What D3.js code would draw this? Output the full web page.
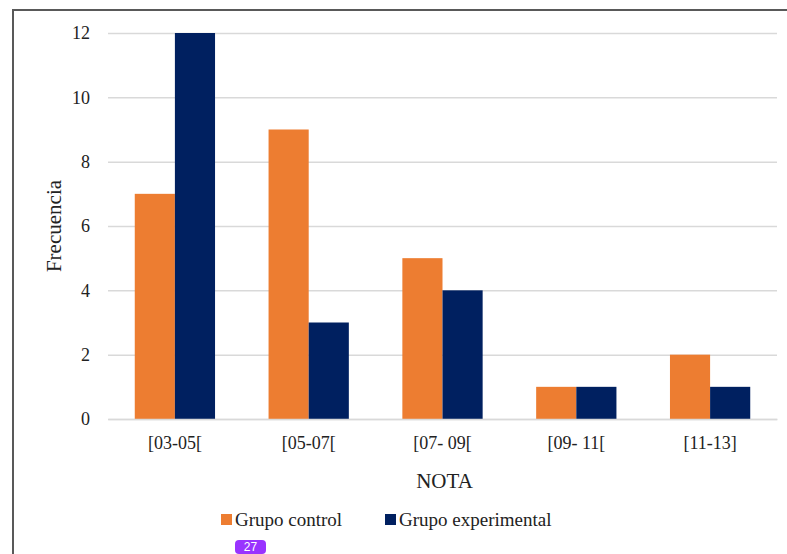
<!DOCTYPE html>
<html>
<head>
<meta charset="utf-8">
<script src="https://cdn.jsdelivr.net/npm/d3@7"></script>
<style>
  html, body { margin: 0; padding: 0; background: #fff; }
  svg { display: block; }
</style>
</head>
<body>
<svg id="chart" width="787" height="554"></svg>
<script>
// Frequency of grades per interval, control vs experimental group
const categories = ["[03-05[", "[05-07[", "[07- 09[", "[09- 11[", "[11-13]"];
const seriesNames = ["Grupo control", "Grupo experimental"];
const controlValues = [7, 9, 5, 1, 2];
const experimentalValues = [12, 3, 4, 1, 1];
const yTicks = [0, 2, 4, 6, 8, 10, 12];
const colors = ["#ED7D31", "#002060"];

const seriesValues = [controlValues, experimentalValues];
const rows = categories.map((c, i) => ({ cat: c, vals: seriesValues.map(s => s[i]) }));

const svg = d3.select("#chart");
const W = 787, H = 554;
const plot = { left: 108, right: 777, top: 33, bottom: 419 };
const serifStack = '"Liberation Serif", "Times New Roman", Times, serif';

// Outer frame
svg.append("path")
  .attr("d", `M13,${H + 5} L13,10 L${W + 5},10`)
  .attr("fill", "none")
  .attr("stroke", "#595959")
  .attr("stroke-width", 2);

const x0 = d3.scaleBand()
  .domain(categories)
  .range([plot.left, plot.right])
  .paddingInner(0.4)
  .paddingOuter(0.2);

const x1 = d3.scaleBand()
  .domain(seriesNames)
  .range([0, x0.bandwidth()]);

const y = d3.scaleLinear()
  .domain([0, 12])
  .range([plot.bottom, plot.top]);

// Horizontal gridlines with value labels
const yAxis = d3.axisLeft(y)
  .tickValues(yTicks)
  .tickSize(-(plot.right - plot.left))
  .tickPadding(18)
  .tickFormat(d3.format("d"));

const gy = svg.append("g")
  .attr("transform", `translate(${plot.left},0)`)
  .call(yAxis)
  .attr("font-family", null)
  .attr("font-size", null);
gy.select(".domain").remove();
gy.selectAll(".tick line")
  .attr("stroke", "#d9d9d9")
  .attr("stroke-width", 1.5);
gy.selectAll(".tick text")
  .style("font-family", serifStack)
  .style("font-size", "18px")
  .attr("fill", "#222");

// Bars
const groups = svg.append("g")
  .selectAll("g")
  .data(rows)
  .join("g")
  .attr("transform", d => `translate(${x0(d.cat)},0)`);

groups.selectAll("rect")
  .data(d => d.vals.map((v, i) => ({ name: seriesNames[i], v, i })))
  .join("rect")
  .attr("x", d => x1(d.name))
  .attr("y", d => y(d.v))
  .attr("width", x1.bandwidth())
  .attr("height", d => y(0) - y(d.v))
  .attr("fill", d => colors[d.i]);

// Category axis
const xAxis = d3.axisBottom(x0).tickSize(0).tickPadding(17);
const gx = svg.append("g")
  .attr("transform", `translate(0,${plot.bottom})`)
  .call(xAxis)
  .attr("font-family", null)
  .attr("font-size", null);
gx.select(".domain")
  .attr("stroke", "#d9d9d9")
  .attr("stroke-width", 1.5);
gx.selectAll(".tick text")
  .style("font-family", serifStack)
  .style("font-size", "18px")
  .attr("fill", "#222");

// Axis titles
svg.append("text")
  .attr("x", (plot.left + plot.right) / 2 + 2)
  .attr("y", 488)
  .attr("text-anchor", "middle")
  .style("font-family", serifStack)
  .style("font-size", "21px")
  .attr("fill", "#222")
  .text("NOTA");

svg.append("text")
  .attr("transform", "translate(61,226) rotate(-90)")
  .attr("text-anchor", "middle")
  .style("font-family", serifStack)
  .style("font-size", "21px")
  .attr("fill", "#222")
  .text("Frecuencia");

// Legend
const legendX = [221, 385];
const legend = svg.append("g")
  .selectAll("g")
  .data(seriesNames)
  .join("g")
  .attr("transform", (d, i) => `translate(${legendX[i]},514)`);
legend.append("rect")
  .attr("width", 11)
  .attr("height", 11)
  .attr("fill", (d, i) => colors[i]);
legend.append("text")
  .attr("x", 14)
  .attr("y", 11.5)
  .style("font-family", serifStack)
  .style("font-size", "19px")
  .attr("fill", "#222")
  .text(d => d);

// Page number badge
const badge = svg.append("g").attr("transform", "translate(235,540)");
badge.append("rect")
  .attr("width", 31)
  .attr("height", 14)
  .attr("rx", 4)
  .attr("fill", "#9933FF");
badge.append("text")
  .attr("x", 15.5)
  .attr("y", 11)
  .attr("text-anchor", "middle")
  .style("font-family", '"Liberation Sans", Arial, sans-serif')
  .style("font-size", "12px")
  .attr("fill", "#fff")
  .text("27");
</script>
</body>
</html>
